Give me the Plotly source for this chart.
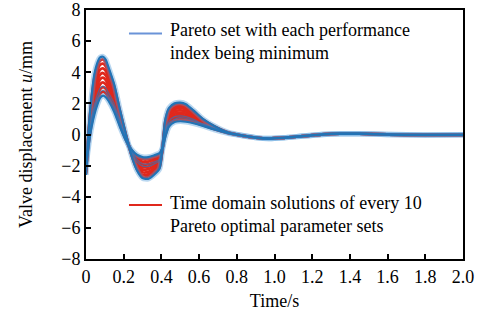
import plotly.graph_objects as go

# time axis (s)
t_head = [0, 0.015, 0.03, 0.045, 0.06, 0.075, 0.09, 0.105, 0.12, 0.15, 0.18, 0.21, 0.24, 0.27,
          0.30, 0.33, 0.36, 0.39, 0.405, 0.42, 0.44, 0.47, 0.50, 0.53, 0.57, 0.62, 0.68, 0.75, 0.82]
t_tail = [0.90, 0.97, 1.05, 1.15, 1.25, 1.35, 1.45, 1.6, 1.8, 2.0]
v_tail = [-0.2, -0.26, -0.21, -0.1, 0.0, 0.05, 0.05, 0.0, -0.03, -0.02]

# Pareto set with each performance index minimum (blue)
blue_A = [-2.6, 0.5, 2.5, 3.9, 4.6, 4.95, 5.0, 4.8, 4.3, 3.2, 1.6, 0.1, -1.3, -2.3,
          -2.8, -2.85, -2.6, -2.2, -1.0, 0.9, 1.7, 2.0, 2.05, 1.95, 1.55, 1.0, 0.55, 0.15, -0.05]
blue_B = [-2.0, -0.6, 0.5, 1.3, 1.9, 2.35, 2.5, 2.4, 2.15, 1.45, 0.5, -0.35, -0.95, -1.3,
          -1.45, -1.45, -1.35, -1.2, -0.9, -0.2, 0.5, 0.8, 0.85, 0.82, 0.72, 0.55, 0.32, 0.1, -0.05]
blue_M1 = [-2.1, -0.45, 0.78, 1.66, 2.27, 2.71, 2.85, 2.74, 2.45, 1.71, 0.67, -0.28, -1.0, -1.6,
           -1.88, -1.9, -1.78, -1.6, -0.92, -0.03, 0.68, 0.98, 1.08, 1.03, 0.88, 0.64, 0.37, 0.11, -0.05]
blue_M2 = [-2.2, -0.3, 1.0, 1.95, 2.55, 2.98, 3.1, 2.98, 2.66, 1.98, 0.83, -0.22, -1.06, -1.75,
           -2.03, -2.05, -1.9, -1.7, -0.93, 0.13, 0.86, 1.15, 1.2, 1.15, 0.97, 0.68, 0.39, 0.11, -0.05]

# time-domain solutions of every 10 Pareto optimal parameter sets (red)
red_1 = [-2.55, 0.4, 2.35, 3.7, 4.4, 4.75, 4.82, 4.62, 4.15, 3.08, 1.52, 0.07, -1.28, -2.23,
         -2.75, -2.7, -2.47, -2.13, -0.99, 0.82, 1.62, 1.92, 1.97, 1.87, 1.5, 0.97, 0.53, 0.15, -0.05]
red_2 = [-2.5, 0.3, 2.15, 3.45, 4.12, 4.48, 4.55, 4.37, 3.92, 2.89, 1.40, 0.02, -1.24, -2.12,
         -2.6, -2.56, -2.33, -2.02, -0.98, 0.70, 1.48, 1.78, 1.83, 1.74, 1.4, 0.92, 0.5, 0.14, -0.05]
red_3 = [-2.42, 0.17, 1.9, 3.12, 3.79, 4.17, 4.25, 4.08, 3.66, 2.68, 1.27, -0.04, -1.2, -2.0,
         -2.43, -2.4, -2.19, -1.9, -0.97, 0.57, 1.34, 1.64, 1.69, 1.61, 1.3, 0.87, 0.48, 0.13, -0.05]
red_4 = [-2.35, 0.04, 1.66, 2.81, 3.47, 3.86, 3.95, 3.79, 3.4, 2.47, 1.14, -0.09, -1.15, -1.88,
         -2.26, -2.23, -2.05, -1.78, -0.96, 0.44, 1.2, 1.5, 1.55, 1.48, 1.2, 0.82, 0.45, 0.13, -0.05]
red_5 = [-2.28, -0.1, 1.42, 2.5, 3.14, 3.55, 3.65, 3.5, 3.14, 2.26, 1.01, -0.14, -1.11, -1.76,
         -2.1, -2.07, -1.9, -1.66, -0.95, 0.31, 1.05, 1.35, 1.4, 1.34, 1.1, 0.76, 0.43, 0.12, -0.05]
red_6 = [-2.2, -0.23, 1.18, 2.18, 2.82, 3.23, 3.35, 3.22, 2.88, 2.05, 0.87, -0.2, -1.07, -1.64,
         -1.93, -1.91, -1.76, -1.54, -0.93, 0.17, 0.91, 1.21, 1.26, 1.2, 1.0, 0.7, 0.4, 0.12, -0.05]
red_7 = [-2.13, -0.36, 0.94, 1.87, 2.49, 2.92, 3.05, 2.93, 2.62, 1.84, 0.74, -0.25, -1.03, -1.52,
         -1.76, -1.75, -1.61, -1.42, -0.92, 0.04, 0.76, 1.06, 1.11, 1.07, 0.9, 0.65, 0.37, 0.11, -0.05]
red_8 = [-2.06, -0.49, 0.7, 1.56, 2.17, 2.61, 2.75, 2.64, 2.37, 1.63, 0.61, -0.3, -0.99, -1.4,
         -1.59, -1.59, -1.47, -1.3, -0.91, -0.09, 0.62, 0.92, 0.97, 0.93, 0.8, 0.6, 0.35, 0.11, -0.05]

red_sets = [red_1, red_2, red_3, red_4, red_5, red_6, red_7, red_8]
blue_edges = [blue_A, blue_B]
blue_mids = [blue_M1, blue_M2]

x_ticks = [0, 0.2, 0.4, 0.6, 0.8, 1.0, 1.2, 1.4, 1.6, 1.8, 2.0]
x_tick_text = ["0", "0.2", "0.4", "0.6", "0.8", "1.0", "1.2", "1.4", "1.6", "1.8", "2.0"]
y_ticks = [-8, -6, -4, -2, 0, 2, 4, 6, 8]
y_tick_text = ["\u22128", "\u22126", "\u22124", "\u22122", "0", "2", "4", "6", "8"]

legend_blue = "Pareto set with each performance<br>index being minimum"
legend_red = "Time domain solutions of every 10<br>Pareto optimal parameter sets"

RED = "#e0281c"
BLUE = "#2174b6"
FONT = "Liberation Serif"
SMOOTH = 0.6

t_all = t_head + t_tail
fig = go.Figure()

for r in red_sets:
    fig.add_trace(go.Scatter(x=t_all, y=r + v_tail, mode="lines",
                             line=dict(color=RED, width=2.8, shape="spline", smoothing=SMOOTH),
                             showlegend=False, hoverinfo="skip"))

for b in blue_edges:
    fig.add_trace(go.Scatter(x=t_all, y=b + v_tail, mode="lines",
                             line=dict(color="rgba(70,150,215,0.38)", width=5.5, shape="spline", smoothing=SMOOTH),
                             showlegend=False, hoverinfo="skip"))
for b in blue_mids:
    fig.add_trace(go.Scatter(x=t_all, y=b + v_tail, mode="lines",
                             line=dict(color="rgba(40,120,190,0.65)", width=1.3, shape="spline", smoothing=SMOOTH),
                             showlegend=False, hoverinfo="skip"))
for b in blue_edges:
    fig.add_trace(go.Scatter(x=t_all, y=b + v_tail, mode="lines",
                             line=dict(color=BLUE, width=2.2, shape="spline", smoothing=SMOOTH),
                             showlegend=False, hoverinfo="skip"))

axis_common = dict(showline=True, linecolor="black", linewidth=2, mirror=True,
                   ticks="inside", ticklen=5, tickwidth=2, tickcolor="black",
                   showgrid=False, zeroline=False, automargin=False,
                   tickfont=dict(family=FONT, size=18, color="black"))

# legend (text annotations + sample lines)
annotations = []
shapes = []
for txt, ytop, ysample, col in [(legend_blue, 0.962, 0.906, "#6a93d8"),
                                (legend_red, 0.268, 0.217, RED)]:
    annotations.append(dict(text=txt, x=0.2202, y=ytop, xref="paper", yref="paper",
                            xanchor="left", yanchor="top", align="left", showarrow=False,
                            borderpad=0,
                            font=dict(family=FONT, size=18, color="black")))
    shapes.append(dict(type="line", xref="paper", yref="paper", x0=0.114, x1=0.2016,
                       y0=ysample, y1=ysample, line=dict(color=col, width=2)))

fig.update_layout(
    width=489, height=320,
    margin=dict(l=86, r=26, t=10, b=61),
    paper_bgcolor="white", plot_bgcolor="white",
    font=dict(family=FONT, size=18, color="black"),
    showlegend=False,
    xaxis=dict(range=[0, 2.0], tickvals=x_ticks, ticktext=x_tick_text,
               title=dict(text="Time/s", font=dict(family=FONT, size=18), standoff=9),
               **axis_common),
    yaxis=dict(range=[-8, 8], tickvals=y_ticks, ticktext=y_tick_text,
               title=dict(text="Valve displacement <i>u</i>/mm", font=dict(family=FONT, size=18), standoff=24),
               **axis_common),
    annotations=annotations,
    shapes=shapes,
)

fig.write_html("out.html")
